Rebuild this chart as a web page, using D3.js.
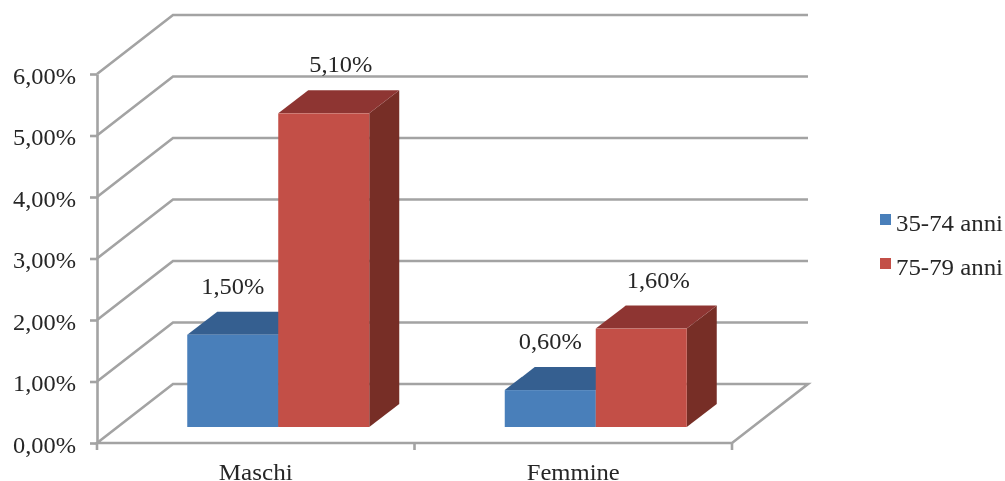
<!DOCTYPE html>
<html><head><meta charset="utf-8">
<script src="https://cdn.jsdelivr.net/npm/d3@7"></script>
<style>html,body{margin:0;padding:0;background:#fff}svg{display:block}
text{font-family:"Liberation Serif",serif;fill:#262626}</style></head>
<body><div id="chart"></div>
<script>
const categories = ["Maschi", "Femmine"];
const seriesNames = ["35-74 anni", "75-79 anni"];
const values3574 = [1.5, 0.6];
const values7579 = [5.1, 1.6];
const yTicks = [0, 1, 2, 3, 4, 5, 6];
const seriesValues = [values3574, values7579];
const frontColors = ["#4A7FBA", "#C35047"];
const topColors = ["#355F90", "#8E3633"];
const sideColors = ["#2C4F78", "#772F27"];

const W = 1005, H = 481;
const wallDx = 76, wallDy = 59, barDx = 30, barDy = 23;
const floorShiftX = 22.5, floorShiftY = 16, barW = 91;
const GRID = "#A3A3A3";
const FS = 23;
const fmtPct = v => d3.format(".2f")(v).replace(".", ",") + "%";

const svg = d3.select("#chart").append("svg").attr("width", W).attr("height", H);
const defs = svg.append("defs");
defs.append("filter").attr("id", "soft").append("feGaussianBlur").attr("stdDeviation", 0.4);
const root = svg.append("g").attr("filter", "url(#soft)");

const y = d3.scaleLinear().domain([0, 6]).range([443, 74]);
const x = d3.scaleBand().domain(categories).range([97, 732]);
const xSeries = d3.scaleBand().domain(d3.range(seriesNames.length)).range([-barW, barW]);
const x0 = x.range()[0], x1 = x.range()[1];

// walls and floor
const wall = root.append("g").attr("fill", "none").attr("stroke", GRID).attr("stroke-width", 2.6);
wall.selectAll("path.grid").data(yTicks).join("path").attr("class", "grid")
  .attr("d", v => v === 0
     ? `M${x0},${y(v)}L${x0 + wallDx},${y(v) - wallDy}L${x1 + wallDx},${y(v) - wallDy}L${x1},${y(v)}Z`
     : `M${x0},${y(v)}L${x0 + wallDx},${y(v) - wallDy}L${x1 + wallDx},${y(v) - wallDy}`);

// axes
const yAxis = root.append("g").attr("transform", `translate(${x0},0)`)
  .call(d3.axisLeft(y).tickValues(yTicks).tickFormat(fmtPct).tickSize(7).tickSizeOuter(0).tickPadding(14));
yAxis.select(".domain").attr("stroke", GRID).attr("stroke-width", 2.6);
yAxis.selectAll(".tick line").attr("stroke", GRID).attr("stroke-width", 2.6);
yAxis.selectAll("text").attr("font-size", FS).attr("font-family", '"Liberation Serif",serif')
  .attr("fill", "#262626").attr("text-anchor", "start").attr("x", -84).attr("dy", null).attr("y", 9)
  .attr("textLength", 63).attr("lengthAdjust", "spacingAndGlyphs");

const xAxis = root.append("g").attr("transform", `translate(0,${y(0)})`)
  .call(d3.axisBottom(x).tickSize(0).tickSizeOuter(0).tickPadding(0));
xAxis.select(".domain").remove();
xAxis.selectAll(".tick line").remove();
xAxis.selectAll(".tick text").attr("font-size", FS).attr("font-family", '"Liberation Serif",serif').attr("fill", "#262626")
  .attr("dy", null).attr("y", 37)
  .attr("textLength", d => d === "Maschi" ? 74 : 93).attr("lengthAdjust", "spacingAndGlyphs");
const tickXs = [x0, x0 + x.step(), x1];
root.append("g").selectAll("line").data(tickXs).join("line")
  .attr("x1", d => d).attr("x2", d => d).attr("y1", y(0)).attr("y2", y(0) + 7)
  .attr("stroke", GRID).attr("stroke-width", 2.6);

// bars
const baseY = y(0) - floorShiftY;
seriesNames.forEach((name, s) => {
  const g = root.append("g");
  const bars = g.selectAll("g").data(categories.map((c, i) => ({ c, v: seriesValues[s][i] }))).join("g");
  const left = d => x(d.c) + x.bandwidth() / 2 + floorShiftX + xSeries(s);
  const top = d => baseY - (y(0) - y(d.v));
  bars.append("path").attr("fill", sideColors[s])
    .attr("d", d => `M${left(d) + barW},${top(d)}l${barDx},${-barDy}V${baseY - barDy}L${left(d) + barW},${baseY}Z`);
  bars.append("path").attr("fill", topColors[s])
    .attr("d", d => `M${left(d)},${top(d)}l${barDx},${-barDy}h${barW}l${-barDx},${barDy}Z`);
  bars.append("rect").attr("fill", frontColors[s])
    .attr("x", left).attr("y", top).attr("width", barW).attr("height", d => baseY - top(d));
});

// data labels
const labelDx = [0, 17];
seriesNames.forEach((name, s) => {
  root.append("g").selectAll("text").data(categories.map((c, i) => ({ c, v: seriesValues[s][i] }))).join("text")
    .attr("font-size", FS).attr("text-anchor", "middle")
    .attr("x", d => x(d.c) + x.bandwidth() / 2 + floorShiftX + xSeries(s) + barW / 2 + labelDx[s])
    .attr("y", d => baseY - (y(0) - y(d.v)) - barDy - 18)
    .attr("textLength", 63).attr("lengthAdjust", "spacingAndGlyphs")
    .text(d => fmtPct(d.v));
});

// legend
const legendY = d3.scalePoint().domain(seriesNames).range([220, 264]);
const lg = root.append("g").selectAll("g").data(seriesNames).join("g")
  .attr("transform", d => `translate(880,${legendY(d)})`);
lg.append("rect").attr("x", 0).attr("y", -6).attr("width", 11).attr("height", 11)
  .attr("fill", (d, i) => frontColors[i]);
lg.append("text").attr("x", 16).attr("y", 11).attr("font-size", FS)
  .attr("textLength", 107).attr("lengthAdjust", "spacingAndGlyphs").text(d => d);
</script></body></html>
